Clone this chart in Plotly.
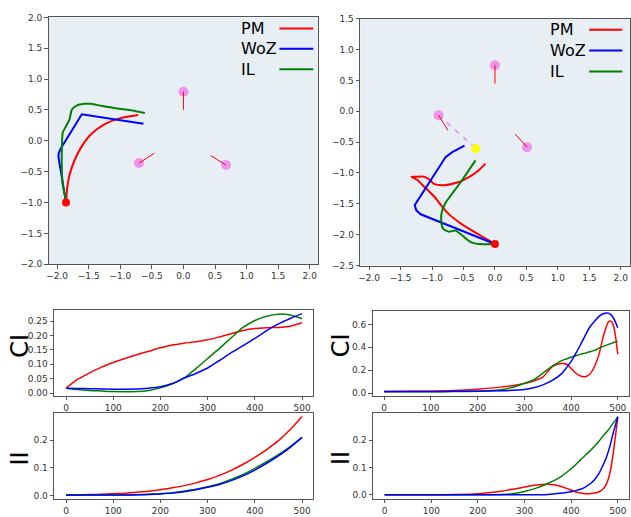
import plotly.graph_objects as go

# ---------------- data ----------------
# Scene 1 (top-left)
pm1_x = [-1.858, -1.842, -1.805, -1.726, -1.621, -1.463, -1.253, -0.989, -0.716]
pm1_y = [-1.009, -0.770, -0.558, -0.319, -0.106, 0.106, 0.266, 0.372, 0.420]
woz1_x = [-1.858, -1.979, -1.975, -1.947, -1.610, -0.632]
woz1_y = [-1.009, -0.260, -0.200, -0.133, 0.430, 0.276]
il1_x = [-1.858, -1.884, -1.911, -1.926, -1.926, -1.911, -1.858, -1.805, -1.768, -1.700,
         -1.568, -1.463, -1.305, -1.095, -0.832, -0.611]
il1_y = [-1.009, -0.850, -0.717, -0.452, -0.159, 0.133, 0.239, 0.345, 0.505, 0.568,
         0.600, 0.600, 0.568, 0.531, 0.494, 0.452]
people1_x = [0.0, -0.705, 0.674]
people1_y = [0.797, -0.361, -0.393]
head1_x = [0.0, -0.463, 0.432]
head1_y = [0.505, -0.202, -0.239]
start1 = (-1.86, -1.0)

# Scene 2 (top-right)
pm2_x = [-0.008, -0.230, -0.494, -0.758, -0.970, -1.128, -1.234, -1.329, -1.260, -1.128,
         -1.049, -0.970, -0.811, -0.600, -0.388, -0.256, -0.151]
pm2_y = [-2.146, -2.013, -1.854, -1.642, -1.377, -1.219, -1.113, -1.060, -1.060, -1.060,
         -1.102, -1.176, -1.197, -1.155, -1.049, -0.954, -0.848]
woz2_x = [-0.008, -1.181, -1.250, -1.276, -0.785, -0.679, -0.484]
woz2_y = [-2.146, -1.669, -1.605, -1.520, -0.742, -0.662, -0.556]
il2_x = [-0.008, -0.177, -0.388, -0.520, -0.626, -0.732, -0.822, -0.853, -0.848, -0.785,
         -0.653, -0.520, -0.415, -0.309]
il2_y = [-2.146, -2.156, -2.119, -2.013, -1.934, -1.950, -1.907, -1.801, -1.642, -1.483,
         -1.298, -1.113, -0.954, -0.795]
people2_x = [0.0, -0.896, 0.51]
people2_y = [0.747, -0.064, -0.583]
head2_x = [0.0, -0.748, 0.325]
head2_y = [0.45, -0.307, -0.371]
goal2 = (-0.304, -0.604)
start2 = (0.0, -2.15)

# CI / II curves, left column
t_left = [0, 25, 50, 75, 100, 125, 150, 175, 200, 225, 250, 275, 300, 325, 350, 375, 400,
          425, 450, 475, 500]
ci1_pm = [0.017, 0.048, 0.070, 0.090, 0.106, 0.120, 0.133, 0.145, 0.157, 0.167, 0.173, 0.178,
          0.185, 0.195, 0.206, 0.217, 0.224, 0.227, 0.228, 0.232, 0.244]
ci1_woz = [0.017, 0.016, 0.015, 0.014, 0.0135, 0.0135, 0.014, 0.017, 0.022, 0.033, 0.052,
           0.068, 0.087, 0.113, 0.140, 0.165, 0.190, 0.217, 0.240, 0.259, 0.276]
ci1_il = [0.017, 0.012, 0.009, 0.007, 0.005, 0.0045, 0.005, 0.009, 0.018, 0.032, 0.052, 0.085,
          0.120, 0.155, 0.192, 0.228, 0.252, 0.267, 0.274, 0.271, 0.258]
ii1_pm = [0.003, 0.003, 0.004, 0.005, 0.007, 0.009, 0.012, 0.016, 0.021, 0.028, 0.036, 0.046,
          0.058, 0.073, 0.091, 0.113, 0.138, 0.166, 0.198, 0.238, 0.285]
ii1_woz = [0.002, 0.002, 0.002, 0.002, 0.002, 0.002, 0.003, 0.004, 0.006, 0.009, 0.014, 0.021,
           0.030, 0.040, 0.054, 0.071, 0.092, 0.116, 0.143, 0.174, 0.210]
ii1_il = [0.002, 0.002, 0.002, 0.002, 0.002, 0.002, 0.003, 0.005, 0.007, 0.010, 0.016, 0.023,
          0.032, 0.043, 0.058, 0.076, 0.098, 0.122, 0.148, 0.177, 0.210]

# CI / II curves, right column
t_ci2 = [0, 50, 100, 150, 200, 250, 275, 300, 320, 340, 360, 380, 390, 400, 410, 420, 430,
         440, 450, 460, 470, 480, 485, 490, 495, 500]
ci2_pm = [0.014, 0.015, 0.017, 0.022, 0.034, 0.052, 0.065, 0.083, 0.105, 0.142, 0.232, 0.258,
          0.254, 0.215, 0.175, 0.149, 0.143, 0.165, 0.230, 0.340, 0.510, 0.620, 0.628, 0.600,
          0.500, 0.340]
ci2_woz = [0.014, 0.014, 0.014, 0.015, 0.016, 0.020, 0.024, 0.031, 0.047, 0.072, 0.110, 0.170,
           0.220, 0.275, 0.345, 0.420, 0.500, 0.575, 0.625, 0.670, 0.695, 0.698, 0.685, 0.660,
           0.620, 0.570]
ci2_il = [0.012, 0.012, 0.012, 0.013, 0.016, 0.030, 0.050, 0.085, 0.115, 0.175, 0.235, 0.283,
          0.298, 0.313, 0.326, 0.338, 0.349, 0.360, 0.373, 0.392, 0.410, 0.425, 0.432, 0.440,
          0.447, 0.454]
t_ii2 = [0, 50, 100, 150, 200, 250, 275, 300, 325, 350, 375, 400, 410, 420, 430, 440, 450,
         460, 470, 475, 480, 485, 490, 495, 500]
ii2_pm = [0.001, 0.001, 0.001, 0.002, 0.005, 0.014, 0.021, 0.029, 0.036, 0.039, 0.033, 0.018,
          0.011, 0.007, 0.005, 0.005, 0.007, 0.012, 0.025, 0.038, 0.060, 0.095, 0.150, 0.215,
          0.285]
ii2_woz = [0.0005, 0.0005, 0.0005, 0.0005, 0.0005, 0.0005, 0.0005, 0.0007, 0.001, 0.002, 0.006,
           0.012, 0.016, 0.021, 0.029, 0.040, 0.056, 0.080, 0.115, 0.135, 0.160, 0.190, 0.225,
           0.255, 0.285]
ii2_il = [0.0005, 0.0005, 0.0005, 0.0005, 0.0008, 0.002, 0.005, 0.013, 0.025, 0.042, 0.063,
          0.096, 0.111, 0.128, 0.144, 0.160, 0.178, 0.197, 0.219, 0.228, 0.238, 0.250, 0.262,
          0.273, 0.285]

names = ["PM", "WoZ", "IL"]
colors = ["#ff0000", "#0000ff", "#008000"]

# ---------------- layout helpers ----------------
W, H = 631, 517
FONT = "DejaVu Sans"


def dx(a, b):
    return [a / W, b / W]


def dy(top, bottom):
    return [1 - bottom / H, 1 - top / H]


fig = go.Figure()

# ---- scene plots ----
scenes = [
    (1, [(pm1_x, pm1_y), (woz1_x, woz1_y), (il1_x, il1_y)], people1_x, people1_y,
     head1_x, head1_y, start1, None),
    (2, [(pm2_x, pm2_y), (woz2_x, woz2_y), (il2_x, il2_y)], people2_x, people2_y,
     head2_x, head2_y, start2, goal2),
]
for k, trajs, px, py, hx, hy, st, goal in scenes:
    xa, ya = ("x", "y") if k == 1 else ("x2", "y2")
    for (tx, ty), nm, c in zip(trajs, names, colors):
        fig.add_trace(go.Scatter(
            x=tx, y=ty, mode="lines", name=nm, showlegend=False,
            line=dict(color=c, width=2, shape="linear" if nm == "WoZ" else "spline",
                      smoothing=0.6),
            xaxis=xa, yaxis=ya))
    if goal is not None:
        fig.add_trace(go.Scatter(
            x=[px[1], goal[0]], y=[py[1], goal[1]], mode="lines", showlegend=False,
            line=dict(color="violet", width=1.5, dash="5px,6px"), xaxis=xa, yaxis=ya))
    fig.add_trace(go.Scatter(
        x=px, y=py, mode="markers", showlegend=False,
        marker=dict(color="violet", size=10, opacity=0.85, line=dict(width=0)),
        xaxis=xa, yaxis=ya))
    for i in range(len(px)):
        fig.add_trace(go.Scatter(
            x=[px[i], hx[i]], y=[py[i], hy[i]], mode="lines", showlegend=False,
            line=dict(color="#ff0000", width=1), xaxis=xa, yaxis=ya))
    if goal is not None:
        fig.add_trace(go.Scatter(
            x=[goal[0]], y=[goal[1]], mode="markers", showlegend=False,
            marker=dict(color="#ffff00", size=9, line=dict(width=0)), xaxis=xa, yaxis=ya))
    fig.add_trace(go.Scatter(
        x=[st[0]], y=[st[1]], mode="markers", showlegend=False,
        marker=dict(color="#ff0000", size=8, line=dict(width=0)), xaxis=xa, yaxis=ya))

# ---- metric plots (drawn PM, IL, then WoZ on top) ----
metric = [
    ("x3", "y3", t_left, [ci1_pm, ci1_woz, ci1_il]),
    ("x4", "y4", t_ci2, [ci2_pm, ci2_woz, ci2_il]),
    ("x5", "y5", t_left, [ii1_pm, ii1_woz, ii1_il]),
    ("x6", "y6", t_ii2, [ii2_pm, ii2_woz, ii2_il]),
]
draw_order = [0, 2, 1]
for xa, ya, t, series in metric:
    for i in draw_order:
        fig.add_trace(go.Scatter(
            x=t, y=series[i], mode="lines", name=names[i], showlegend=False,
            line=dict(color=colors[i], width=1.5, shape="spline", smoothing=0.8),
            xaxis=xa, yaxis=ya))

tickfont = dict(family=FONT, size=9, color="#333333")
axcommon = dict(showgrid=False, zeroline=False, showline=True, mirror=True,
                linecolor="#555555", linewidth=1, ticks="outside", ticklen=3.5,
                tickcolor="#555555", tickwidth=1, tickfont=tickfont)

top_ticks = [-2.0, -1.5, -1.0, -0.5, 0.0, 0.5, 1.0, 1.5, 2.0]
y2_ticks = [-2.5, -2.0, -1.5, -1.0, -0.5, 0.0, 0.5, 1.0, 1.5]
x_bottom_ticks = [0, 100, 200, 300, 400, 500]

# ---- manual legends (text left, line sample right) ----
shapes = [
    dict(type="rect", xref="x domain", yref="y domain", x0=0, x1=1, y0=0, y1=1,
         fillcolor="#e7eef4", line=dict(width=0), layer="below"),
    dict(type="rect", xref="x2 domain", yref="y2 domain", x0=0, x1=1, y0=0, y1=1,
         fillcolor="#e7eef4", line=dict(width=0), layer="below"),
]
annotations = []
legend_specs = [
    (237.7, 278.3, 312.3, [24.0, 44.5, 65.5]),
    (547.3, 589.0, 622.3, [25.3, 46.5, 67.7]),
]
for tx, lx0, lx1, rows in legend_specs:
    for nm, c, ry in zip(names, colors, rows):
        annotations.append(dict(
            text=nm, x=tx / W, y=1 - ry / H, xref="paper", yref="paper",
            xanchor="left", yanchor="middle", showarrow=False,
            font=dict(family=FONT, size=16, color="#000000")))
        shapes.append(dict(type="line", xref="paper", yref="paper",
                           x0=lx0 / W, x1=lx1 / W, y0=1 - ry / H, y1=1 - ry / H,
                           line=dict(color=c, width=2)))

for lbl, lx, ly in [("CI", 18.5, 347), ("II", 18.5, 462), ("CI", 340, 347), ("II", 340, 462)]:
    annotations.append(dict(
        text=lbl, x=lx / W, y=1 - ly / H, xref="paper", yref="paper",
        xanchor="center", yanchor="middle",
        showarrow=False, textangle=-90, font=dict(family=FONT, size=24, color="#000")))

fig.update_layout(
    width=W, height=H, autosize=False,
    margin=dict(l=0, r=0, t=0, b=0),
    paper_bgcolor="white", plot_bgcolor="white",
    font=dict(family=FONT, color="#000000"),
    showlegend=False,
    xaxis=dict(domain=dx(46.7, 316.7), range=[-2.136, 2.126], anchor="y",
               tickvals=top_ticks, tickformat=".1f", **axcommon),
    yaxis=dict(domain=dy(12.7, 264.3), range=[-2.0, 2.0], anchor="x",
               tickvals=top_ticks, tickformat=".1f", **axcommon),
    xaxis2=dict(domain=dx(359.3, 630), range=[-2.143, 2.147], anchor="y2",
                tickvals=top_ticks, tickformat=".1f", **axcommon),
    yaxis2=dict(domain=dy(14, 265.7), range=[-2.5, 1.5], anchor="x2",
                tickvals=y2_ticks, tickformat=".1f", **axcommon),
    xaxis3=dict(domain=dx(52.3, 312.3), range=[-25.3, 523.9], anchor="y3",
                tickvals=x_bottom_ticks, **axcommon),
    yaxis3=dict(domain=dy(311, 398.3), range=[-0.0089, 0.2885], anchor="x3",
                tickvals=[0, 0.05, 0.10, 0.15, 0.20, 0.25], tickformat=".2f", **axcommon),
    xaxis4=dict(domain=dx(371.7, 629.3), range=[-24.7, 524.7], anchor="y4",
                tickvals=x_bottom_ticks, **axcommon),
    yaxis4=dict(domain=dy(312, 398.3), range=[-0.022, 0.717], anchor="x4",
                tickvals=[0, 0.2, 0.4, 0.6], tickformat=".1f", **axcommon),
    xaxis5=dict(domain=dx(52.3, 312.3), range=[-25.3, 523.9], anchor="y5",
                tickvals=x_bottom_ticks, **axcommon),
    yaxis5=dict(domain=dy(416.3, 503.3), range=[-0.0106, 0.2968], anchor="x5",
                tickvals=[0, 0.1, 0.2], tickformat=".1f", **axcommon),
    xaxis6=dict(domain=dx(372.3, 629.3), range=[-24.7, 524.7], anchor="y6",
                tickvals=x_bottom_ticks, **axcommon),
    yaxis6=dict(domain=dy(416.3, 503.3), range=[-0.013, 0.298], anchor="x6",
                tickvals=[0, 0.1, 0.2], tickformat=".1f", **axcommon),
    shapes=shapes,
    annotations=annotations,
)

fig.write_html("out.html", config={"displayModeBar": False},
               post_script="document.body.style.margin='0';")
